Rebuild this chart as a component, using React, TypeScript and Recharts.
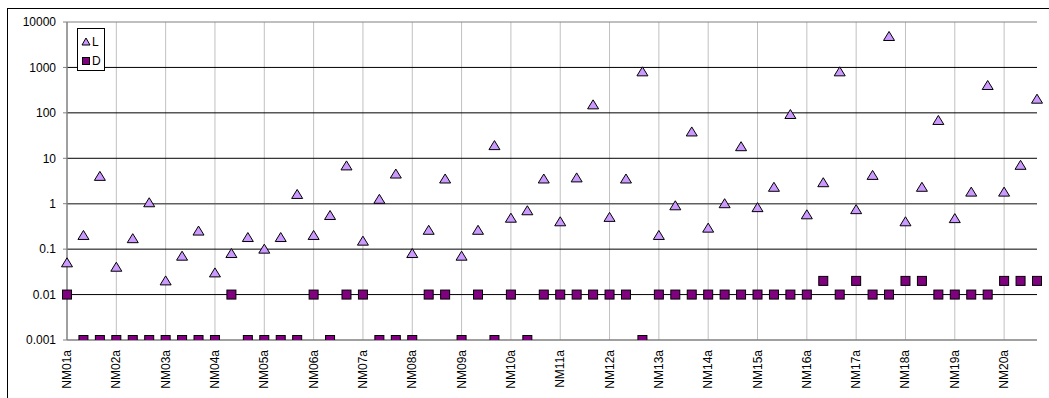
import React from 'react';
import {
  ComposedChart,
  Scatter,
  XAxis,
  YAxis,
  ReferenceLine,
} from 'recharts';

// Sampling sites, each with three replicates (a, b, c)
const sites = [
  'NM01', 'NM02', 'NM03', 'NM04', 'NM05', 'NM06', 'NM07', 'NM08', 'NM09', 'NM10',
  'NM11', 'NM12', 'NM13', 'NM14', 'NM15', 'NM16', 'NM17', 'NM18', 'NM19', 'NM20',
];
const replicates = ['a', 'b', 'c'];
const categories = sites.flatMap((s) => replicates.map((r) => s + r));

// Series L (triangles)
const lValues = [
  0.05, 0.2, 4, 0.04, 0.17, 1.05, 0.02, 0.07, 0.25, 0.03,
  0.08, 0.18, 0.1, 0.18, 1.6, 0.2, 0.55, 6.8, 0.15, 1.25,
  4.5, 0.08, 0.26, 3.5, 0.07, 0.26, 19, 0.48, 0.7, 3.5,
  0.4, 3.7, 150, 0.5, 3.5, 800, 0.2, 0.9, 38, 0.29,
  1.0, 18, 0.82, 2.3, 92, 0.57, 2.9, 800, 0.74, 4.2,
  4800, 0.4, 2.3, 68, 0.47, 1.8, 400, 1.8, 7, 200,
];

// Series D (squares)
const dValues = [
  0.01, 0.001, 0.001, 0.001, 0.001, 0.001, 0.001, 0.001, 0.001, 0.001,
  0.01, 0.001, 0.001, 0.001, 0.001, 0.01, 0.001, 0.01, 0.01, 0.001,
  0.001, 0.001, 0.01, 0.01, 0.001, 0.01, 0.001, 0.01, 0.001, 0.01,
  0.01, 0.01, 0.01, 0.01, 0.01, 0.001, 0.01, 0.01, 0.01, 0.01,
  0.01, 0.01, 0.01, 0.01, 0.01, 0.01, 0.02, 0.01, 0.02, 0.01,
  0.01, 0.02, 0.02, 0.01, 0.01, 0.01, 0.01, 0.02, 0.02, 0.02,
];

const yTicks = [0.001, 0.01, 0.1, 1, 10, 100, 1000, 10000];
const labelTicks = categories.filter((_, i) => i % replicates.length === 0);
// Group separators, in category units on the helper axis
const groupBounds = sites.map((_, i) => i * replicates.length).concat(categories.length);

const data = categories.map((name, i) => ({ name, L: lValues[i], D: dValues[i] }));

const FONT = '"Liberation Sans", Arial, sans-serif';
const L_FILL = '#CC99FF';
const D_FILL = '#800080';

const Triangle = (props: any) => {
  const { cx, cy } = props;
  if (cx == null || cy == null) return null;
  return (
    <polygon
      points={`${cx},${cy - 5} ${cx - 5.5},${cy + 4} ${cx + 5.5},${cy + 4}`}
      fill={L_FILL}
      stroke="#000"
      strokeWidth={1}
    />
  );
};

const Square = (props: any) => {
  const { cx, cy } = props;
  if (cx == null || cy == null) return null;
  return (
    <rect x={cx - 4.5} y={cy - 4.5} width={9} height={9} fill={D_FILL} stroke="#000" strokeWidth={1} />
  );
};

const XTick = (props: any) => {
  const { x, y, payload } = props;
  return (
    <text
      x={0}
      y={0}
      transform={`translate(${x},${y}) rotate(-90)`}
      textAnchor="end"
      dominantBaseline="central"
      fontSize={12}
      fontFamily={FONT}
      fill="#000"
    >
      {payload.value}
    </text>
  );
};

const LegendBox = () => (
  <div
    style={{
      position: 'absolute',
      left: 77,
      top: 28,
      width: 26,
      height: 41,
      border: '1px solid #000',
      background: '#fff',
    }}
  >
    <svg width={26} height={41} style={{ position: 'absolute', left: 0, top: 0 }}>
      <polygon points="8,9 4,16 12,16" fill={L_FILL} stroke="#000" strokeWidth={1} />
      <text x={14} y={17} fontSize={12} fontFamily={FONT} fill="#000">L</text>
      <rect x={4.5} y={28.5} width={7} height={7} fill={D_FILL} stroke="#000" strokeWidth={1} />
      <text x={14} y={36} fontSize={12} fontFamily={FONT} fill="#000">D</text>
    </svg>
  </div>
);

export default function App() {
  return (
    <div style={{ position: 'absolute', left: 0, top: 0, width: 1049, height: 398, background: '#fff' }}>
      <div
        style={{
          position: 'absolute',
          left: 7,
          top: 8,
          width: 1049,
          height: 398,
          borderLeft: '1px solid #000',
          borderTop: '1px solid #000',
        }}
      />
      <ComposedChart
        width={1049}
        height={398}
        data={data}
        margin={{ top: 22, right: 12, bottom: 0, left: 8 }}
        style={{ position: 'absolute', left: 0, top: 0 }}
      >
        <XAxis
          dataKey="name"
          type="category"
          ticks={labelTicks}
          interval={0}
          height={58}
          axisLine={false}
          tickLine={false}
          tickSize={0}
          tickMargin={10}
          tick={<XTick />}
        />
        <XAxis xAxisId="grid" type="number" domain={[0, categories.length]} hide allowDataOverflow />
        <YAxis
          scale="log"
          type="number"
          domain={[0.001, 10000]}
          ticks={yTicks}
          allowDataOverflow
          width={59}
          tickSize={4}
          tickMargin={7}
          tickFormatter={(v: number) => String(v)}
          tick={{ fontSize: 12, fontFamily: FONT, fill: '#000' }}
          axisLine={{ stroke: '#808080', strokeWidth: 1.5 }}
          tickLine={{ stroke: '#808080' }}
          interval={0}
        />
        {groupBounds.slice(1, -1).map((b) => (
          <ReferenceLine key={`v${b}`} xAxisId="grid" x={b} stroke="#c0c0c0" strokeWidth={1} ifOverflow="visible" />
        ))}
        {yTicks.slice(1, -1).map((t) => (
          <ReferenceLine key={`h${t}`} y={t} stroke={t === 1 ? '#606060' : '#000'} strokeWidth={t === 1 ? 1.5 : 1} />
        ))}
        <ReferenceLine y={10000} stroke="#808080" strokeWidth={1} />
        <ReferenceLine y={0.001} stroke="#808080" strokeWidth={1.5} />
        <ReferenceLine xAxisId="grid" x={categories.length} stroke="#808080" strokeWidth={1} ifOverflow="visible" />
        <Scatter name="L" dataKey="L" shape={<Triangle />} isAnimationActive={false} />
        <Scatter name="D" dataKey="D" shape={<Square />} isAnimationActive={false} />
      </ComposedChart>
      <LegendBox />
    </div>
  );
}
